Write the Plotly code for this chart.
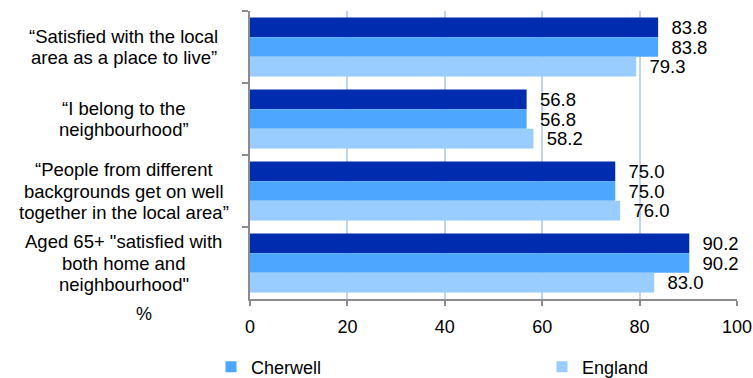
import plotly.graph_objects as go

category_lines = [
    ["\u201cSatisfied with the local", "area as a place to live\u201d"],
    ["\u201cI belong to the", "neighbourhood\u201d"],
    ["\u201cPeople from different", "backgrounds get on well", "together in the local area\u201d"],
    ["Aged 65+ \"satisfied with", "both home and", "neighbourhood\""],
]
cat_ids = ["c1", "c2", "c3", "c4"]
series1 = [83.8, 56.8, 75.0, 90.2]   # unlabelled (dark blue)
cherwell = [83.8, 56.8, 75.0, 90.2]
england = [79.3, 58.2, 76.0, 83.0]
x_ticks = [0, 20, 40, 60, 80, 100]

FONT = "Arial, Liberation Sans, sans-serif"
DARK = "#002DB0"
MID = "#4DA6FF"
LIGHT = "#99CCFF"
PAD = "\u00a0\u00a0"

fig = go.Figure()
for name, vals, col in [("", series1, DARK),
                        ("Cherwell", cherwell, MID),
                        ("England", england, LIGHT)]:
    fig.add_trace(go.Bar(
        y=cat_ids, x=vals, orientation="h", name=name,
        marker=dict(color=col, line=dict(width=0)),
        text=[PAD + f"{v:.1f}" for v in vals], textposition="outside",
        textfont=dict(family=FONT, size=18.5, color="black"),
        constraintext="none", cliponaxis=False, showlegend=False,
        legendgroup=name,
    ))

# legend entries (small square markers), one legend each
for name, col, lg in [("Cherwell", MID, "legend"), ("England", LIGHT, "legend2")]:
    fig.add_trace(go.Scatter(
        x=[None], y=[None], mode="markers", name=name, legendgroup=name,
        marker=dict(symbol="square", size=11, color=col), legend=lg,
    ))

L, R, T, B = 249.5, 16, 11, 79
W = 753 - L - R
LINE = 21.5

for cid, lines in zip(cat_ids, category_lines):
    n = len(lines)
    for i, line in enumerate(lines):
        fig.add_annotation(
            x=(123 - L) / W, xref="paper", y=cid, yref="y", text=line,
            showarrow=False, align="center", xanchor="center", yanchor="middle",
            yshift=((n - 1) / 2 - i) * LINE,
            font=dict(family=FONT, size=18.5, color="black"),
        )

fig.add_annotation(
    x=(133 - L) / W, xref="paper", y=-(313.5 - 299) / 288, yref="paper",
    yanchor="middle", text="%", showarrow=False,
    font=dict(family=FONT, size=18, color="black"),
)

legend_common = dict(orientation="h", xanchor="left", xref="container",
                     yref="container", y=(378 - 367) / 378, yanchor="middle",
                     font=dict(family=FONT, size=18, color="black"),
                     itemclick=False, itemdoubleclick=False,
                     bgcolor="rgba(0,0,0,0)")

fig.update_layout(
    width=753, height=378,
    margin=dict(l=L, r=R, t=T, b=B, autoexpand=False),
    paper_bgcolor="white", plot_bgcolor="white",
    barmode="group", bargap=0.18, bargroupgap=0,
    font=dict(family=FONT, size=18, color="black"),
    legend=dict(x=211 / 753, **legend_common),
    legend2=dict(x=542 / 753, **legend_common),
    showlegend=True,
)
fig.update_xaxes(
    range=[0, 100], tickvals=x_ticks, ticktext=[str(t) for t in x_ticks],
    showgrid=True, gridcolor="#C3D3EA", gridwidth=1.5, zeroline=False,
    showline=True, linecolor="#8C8C8C", linewidth=2,
    ticks="outside", ticklen=5, tickcolor="#8C8C8C", tickwidth=1.5,
    ticklabelstandoff=5,
    tickfont=dict(family=FONT, size=18, color="black"),
)
fig.update_yaxes(
    categoryorder="array", categoryarray=cat_ids, autorange="reversed",
    showticklabels=False, showgrid=False, zeroline=False,
    showline=True, linecolor="#8C8C8C", linewidth=2,
    ticks="outside", tickson="boundaries", ticklen=6, tickcolor="#8C8C8C",
    tickwidth=1.5,
)

fig.write_html(
    "out.html",
    config={"displayModeBar": False},
    post_script="document.body.style.margin='0px';document.body.style.padding='0px';",
)
